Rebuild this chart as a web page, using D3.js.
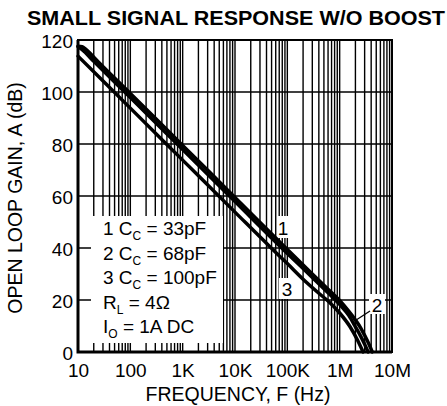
<!DOCTYPE html>
<html>
<head>
<meta charset="utf-8">
<script src="https://cdn.jsdelivr.net/npm/d3@7"></script>
<style>
  body { margin: 0; background: #fff; }
  text { font-family: "Liberation Sans", Arial, sans-serif; fill: #000; }
</style>
</head>
<body>
<div id="container"></div>
<script>
/* CONSTANTS AND GLOBALS */
const width = 447,
  height = 406,
  margin = { top: 40, bottom: 54, left: 78, right: 55 };

// DATA: [frequency Hz, gain dB]
const curve1 = [[10, 117.5], [12, 116.3], [20, 111.8], [100, 97.84], [1000, 77.84], [10000, 57.84],
  [100000, 37.9], [300000, 28.7], [600000, 22.8], [1000000, 18.3], [1500000, 14],
  [2000000, 9.7], [2500000, 6.2], [3000000, 3], [3500000, 0]];
const curve2 = [[10, 117.6], [12, 117.4], [14, 116.5], [17, 114.9], [20, 113.4], [100, 99.46],
  [1000, 79.46], [10000, 59.46], [100000, 39.46], [300000, 30], [600000, 24.1], [1000000, 19.8],
  [1500000, 15.6], [2000000, 12.3], [2500000, 9.4], [3000000, 6.4], [3600000, 3.2], [4200000, 0]];
const curve3 = [[10, 113.8], [100, 93.8], [1000, 73.8], [10000, 53.8], [47000, 40.4], [100000, 34],
  [200000, 28], [400000, 22.6], [600000, 19.6], [1000000, 15], [1580000, 9.7], [2200000, 4.5],
  [2800000, 0]];

const xTicks = [10, 100, 1e3, 1e4, 1e5, 1e6, 1e7];
const xTickLabels = ["10", "100", "1K", "10K", "100K", "1M", "10M"];
const yTicks = [0, 20, 40, 60, 80, 100, 120];

const legendLines = [
  ["1 C", "C", " = 33pF"],
  ["2 C", "C", " = 68pF"],
  ["3 C", "C", " = 100pF"],
  ["R", "L", " = 4Ω"],
  ["I", "O", " = 1A DC"]
];

const svg = d3.select("#container")
  .append("svg")
  .attr("width", width)
  .attr("height", height)
  .style("background-color", "white");

// SCALES
const x = d3.scaleLog()
  .domain([10, 1e7])
  .range([margin.left, width - margin.right]);
const y = d3.scaleLinear()
  .domain([0, 120])
  .range([height - margin.bottom, margin.top]);

// GRID
const minor = [];
for (let d = 1; d < 7; d++) for (let k = 1; k < 10; k++) minor.push(k * Math.pow(10, d));
svg.selectAll("line.vgrid")
  .data(minor)
  .enter()
  .append("line")
  .attr("class", "vgrid")
  .attr("x1", d => x(d)).attr("x2", d => x(d))
  .attr("y1", y(0)).attr("y2", y(120))
  .attr("stroke", "#000")
  .attr("stroke-width", 1.4);

svg.selectAll("line.hgrid")
  .data(yTicks)
  .enter()
  .append("line")
  .attr("class", "hgrid")
  .attr("x1", x(10)).attr("x2", x(1e7))
  .attr("y1", d => y(d)).attr("y2", d => y(d))
  .attr("stroke", "#000")
  .attr("stroke-width", 1.6);

// frame
svg.append("rect")
  .attr("x", x(10)).attr("y", y(120))
  .attr("width", x(1e7) - x(10)).attr("height", y(0) - y(120))
  .attr("fill", "none").attr("stroke", "#000").attr("stroke-width", 2);
svg.append("path")
  .attr("d", `M${x(10)},${y(120)}V${y(0)}H${x(1e7)}`)
  .attr("fill", "none").attr("stroke", "#000").attr("stroke-width", 3);

// LEGEND BOX
svg.append("rect")
  .attr("x", 91).attr("y", 216)
  .attr("width", 132).attr("height", 127)
  .attr("fill", "white");

const legend = svg.append("g");
legendLines.forEach((l, i) => {
  const t = legend.append("text")
    .attr("x", 103)
    .attr("y", 235 + i * 24.5)
    .attr("font-size", 19);
  t.append("tspan").text(l[0]);
  t.append("tspan").attr("font-size", 12).attr("dy", 5).text(l[1]);
  t.append("tspan").attr("dy", -5).text(l[2]);
});

// CURVE LABEL BOXES
const tags = [
  { t: "1", x: 283, y: 235, box: [277, 216, 13, 22] },
  { t: "3", x: 287, y: 296, box: [279, 278, 17, 21] },
  { t: "2", x: 377, y: 312, box: [369, 294, 16, 20] }
];
svg.selectAll("rect.tag")
  .data(tags)
  .enter()
  .append("rect")
  .attr("class", "tag")
  .attr("x", d => d.box[0]).attr("y", d => d.box[1])
  .attr("width", d => d.box[2]).attr("height", d => d.box[3])
  .attr("fill", "white");

// CURVES
const lineGen = d3.line()
  .x(d => x(d[0]))
  .y(d => y(d[1]))
  .curve(d3.curveMonotoneX);

svg.selectAll("path.curve")
  .data([curve1, curve2, curve3])
  .enter()
  .append("path")
  .attr("class", "curve")
  .attr("d", lineGen)
  .attr("fill", "none")
  .attr("stroke", "#000")
  .attr("stroke-width", 3.5)
  .attr("stroke-linejoin", "round")
  .attr("stroke-linecap", "round");

// leader for label 2
svg.append("line")
  .attr("x1", 370).attr("y1", 311)
  .attr("x2", x(2e6)).attr("y2", y(12.1))
  .attr("stroke", "#000").attr("stroke-width", 1.3);

svg.selectAll("text.tag")
  .data(tags)
  .enter()
  .append("text")
  .attr("class", "tag")
  .attr("x", d => d.x).attr("y", d => d.y)
  .attr("text-anchor", "middle")
  .attr("font-size", 19)
  .text(d => d.t);

// AXES (labels only)
const xAxis = svg.append("g")
  .attr("transform", `translate(0,${y(0)})`)
  .call(d3.axisBottom(x).tickValues(xTicks).tickFormat((d, i) => xTickLabels[i]).tickSize(0).tickPadding(0));
xAxis.select(".domain").remove();
xAxis.selectAll("text")
  .attr("y", 25).attr("dy", null)
  .attr("font-size", 19).attr("font-family", "Liberation Sans, Arial, sans-serif");

const yAxis = svg.append("g")
  .attr("transform", `translate(${x(10) - 5},1.5)`)
  .call(d3.axisLeft(y).tickValues(yTicks).tickSize(0).tickPadding(0));
yAxis.select(".domain").remove();
yAxis.selectAll("text").attr("font-size", 19).attr("font-family", "Liberation Sans, Arial, sans-serif");

// TITLES
svg.append("text")
  .attr("x", 27).attr("y", 25)
  .attr("font-size", 21).attr("font-weight", "bold")
  .attr("textLength", 418).attr("lengthAdjust", "spacingAndGlyphs")
  .text("SMALL SIGNAL RESPONSE W/O BOOST");

svg.append("text")
  .attr("x", 238).attr("y", 401)
  .attr("text-anchor", "middle")
  .attr("font-size", 19.5)
  .text("FREQUENCY, F (Hz)");

svg.append("text")
  .attr("transform", "translate(22,198) rotate(-90)")
  .attr("text-anchor", "middle")
  .attr("font-size", 19.5)
  .text("OPEN LOOP GAIN, A (dB)");
</script>
</body>
</html>
